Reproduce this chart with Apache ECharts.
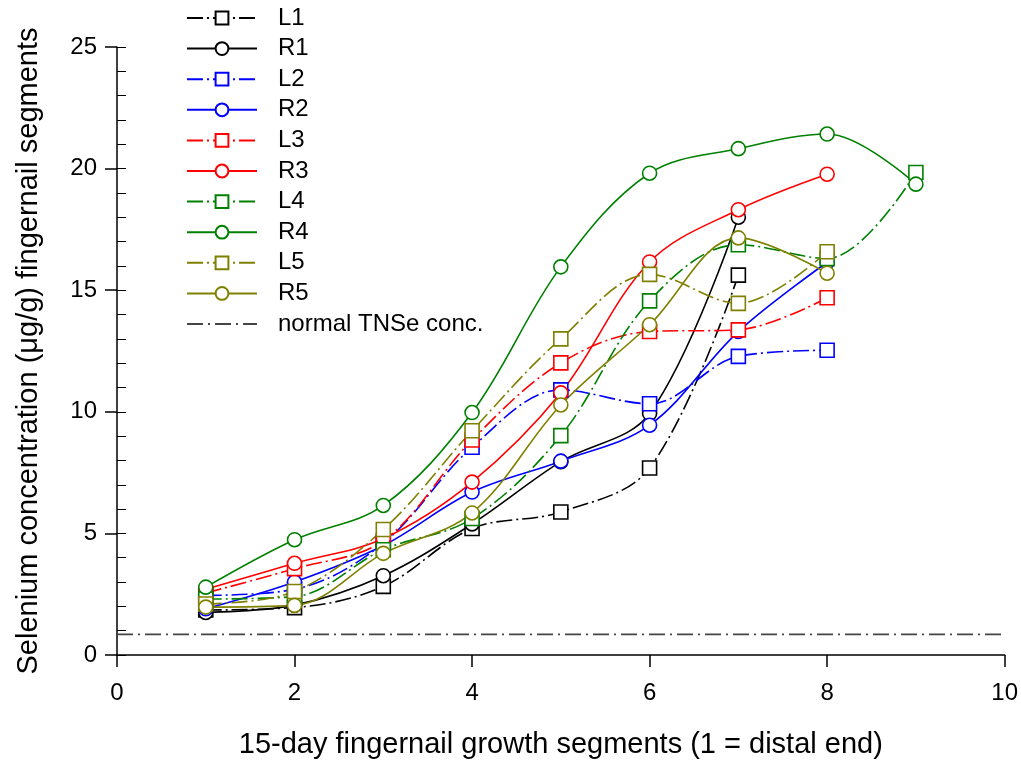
<!DOCTYPE html>
<html>
<head>
<meta charset="utf-8">
<script src="https://cdn.jsdelivr.net/npm/echarts@6/dist/echarts.min.js"></script>
<style>html,body{margin:0;padding:0;background:#fff;overflow:hidden}#c{width:1021px;height:764px}</style>
</head>
<body>
<div id="c"></div>
<script>
const segments = [1, 2, 3, 4, 5, 6, 7, 8, 9];
const L1 = [1.85, 1.95, 2.82, 5.2, 5.88, 7.69, 15.62];
const R1 = [1.75, 2.05, 3.26, 5.39, 7.95, 9.93, 18.0];
const L2 = [2.45, 2.7, 4.6, 8.54, 10.9, 10.33, 12.28, 12.53];
const R2 = [1.9, 3.0, 4.5, 6.7, 7.97, 9.45, 13.3, 16.15];
const L3 = [2.55, 3.55, 4.7, 8.84, 12.01, 13.3, 13.37, 14.69];
const R3 = [2.7, 3.77, 4.79, 7.11, 10.78, 16.16, 18.31, 19.77];
const L4 = [2.3, 2.4, 4.33, 5.61, 9.02, 14.56, 16.87, 16.3, 19.84];
const R4 = [2.79, 4.74, 6.15, 9.97, 15.96, 19.81, 20.82, 21.42, 19.36];
const L5 = [2.1, 2.61, 5.16, 9.22, 13.0, 15.65, 14.46, 16.58];
const R5 = [1.97, 2.04, 4.18, 5.84, 10.28, 13.58, 17.15, 15.7];
const normalTNSe = 0.85;
const normalRange = [0, 10];
const xTicks = [0, 2, 4, 6, 8, 10];
const yTicks = [0, 5, 10, 15, 20, 25];

const FONT = 'Liberation Sans, Arial, sans-serif';
const dashL = [16, 4, 2, 4];

function mk(name, arr, color, isL) {
  return {
    name: name,
    type: 'line',
    smooth: 0.35,
    data: arr.map((v, i) => [segments[i], v]),
    symbol: isL ? 'rect' : 'circle',
    symbolSize: 14,
    showSymbol: true,
    lineStyle: { color: color, width: 1.6, type: isL ? dashL : 'solid' },
    itemStyle: { color: '#fff', borderColor: color, borderWidth: 1.6 },
    emphasis: { disabled: true },
    z: 3
  };
}

const series = [
  mk('L1', L1, '#000000', true),
  mk('R1', R1, '#000000', false),
  mk('L2', L2, '#0000ff', true),
  mk('R2', R2, '#0000ff', false),
  mk('L3', L3, '#ff0000', true),
  mk('R3', R3, '#ff0000', false),
  mk('L4', L4, '#008000', true),
  mk('R4', R4, '#008000', false),
  mk('L5', L5, '#808000', true),
  mk('R5', R5, '#808000', false),
  {
    name: 'normal TNSe conc.',
    type: 'line',
    data: normalRange.map(x => [x, normalTNSe]),
    symbol: 'none',
    lineStyle: { color: '#444', width: 1.6, type: [16, 5, 2, 5] },
    itemStyle: { color: '#444' },
    z: 2
  }
];

const legendData = series.map(s => s.name === 'normal TNSe conc.'
  ? { name: s.name, itemStyle: { opacity: 0, color: 'rgba(0,0,0,0)', borderWidth: 0 } }
  : { name: s.name });

const chart = echarts.init(document.getElementById('c'));
chart.setOption({
  animation: false,
  backgroundColor: '#fff',
  grid: { left: 117, right: 16, top: 47, bottom: 105, containLabel: false },
  legend: {
    orient: 'vertical',
    left: 186,
    top: 6,
    padding: 0,
    itemWidth: 70,
    itemHeight: 16,
    itemGap: 6.6,
    selectedMode: false,
    textStyle: { fontFamily: FONT, fontSize: 24, color: '#000', padding: [0, 0, 0, 16], lineHeight: 16 },
    data: legendData
  },
  xAxis: {
    type: 'value', min: xTicks[0], max: xTicks[xTicks.length - 1], interval: 2,
    name: '15-day fingernail growth segments (1 = distal end)',
    nameLocation: 'middle', nameGap: 75,
    nameTextStyle: { fontFamily: FONT, fontSize: 29, color: '#000' },
    axisLine: { show: true, onZero: false, lineStyle: { color: '#000', width: 1.5 } },
    axisTick: { show: true, length: 12, lineStyle: { color: '#000', width: 1.5 } },
    axisLabel: { fontFamily: FONT, fontSize: 24, color: '#000', margin: 26 },
    splitLine: { show: false }
  },
  yAxis: [{
    type: 'value', min: yTicks[0], max: yTicks[yTicks.length - 1], interval: 5,
    name: 'Selenium concentration (\u03bcg/g) fingernail segments',
    nameLocation: 'middle', nameGap: 74,
    nameTextStyle: { fontFamily: FONT, fontSize: 29, color: '#000' },
    axisLine: { show: true, onZero: false, lineStyle: { color: '#000', width: 1.5 } },
    axisTick: { show: true, length: 12, lineStyle: { color: '#000', width: 1.5 } },
    axisLabel: { fontFamily: FONT, fontSize: 24, color: '#000', margin: 20 },
    splitLine: { show: false }
  }, {
    type: 'value', min: 0, max: 25, interval: 1, position: 'left', offset: 0,
    axisLine: { show: false },
    axisTick: { show: true, inside: true, length: 9, lineStyle: { color: '#000', width: 1 } },
    axisLabel: { show: false },
    splitLine: { show: false }
  }],
  series: series
});
</script>
</body>
</html>
